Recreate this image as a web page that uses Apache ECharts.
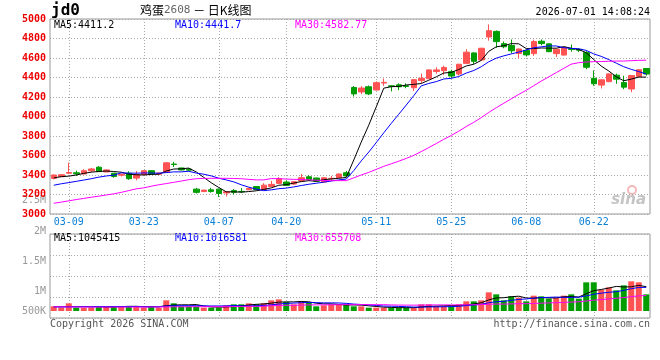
<!DOCTYPE html>
<html><head><meta charset="utf-8">
<script src="https://cdn.jsdelivr.net/npm/echarts@6/dist/echarts.min.js"></script>
<style>html,body{margin:0;padding:0;background:#fff}#c{width:660px;height:360px}</style>
</head><body><div id="c"></div>
<script>
const dates = ['03-05','03-06','03-09','03-10','03-11','03-12','03-13','03-16','03-17','03-18','03-19','03-20','03-23','03-24','03-25','03-26','03-27','03-30','03-31',
'04-01','04-02','04-03','04-07','04-08','04-09','04-10','04-13','04-14','04-15','04-16','04-17','04-20','04-21','04-22','04-23','04-24','04-27','04-28','04-29','04-30',
'05-06','05-07','05-08','05-11','05-12','05-13','05-14','05-15','05-18','05-19','05-20','05-21','05-22','05-25','05-26','05-27','05-28','05-29',
'06-01','06-02','06-03','06-04','06-05','06-08','06-09','06-10','06-11','06-12','06-15','06-16','06-17','06-18','06-22','06-23','06-24','06-25','06-26','06-29','06-30',
'07-01'];
const opens  = [3365,3383,3418,3423,3410,3443,3480,3431,3418,3398,3418,3368,3403,3444,3408,3428,3512,3472,3460,
3255,3230,3248,3255,3216,3240,3232,3249,3282,3250,3283,3314,3328,3307,3338,3382,3369,3328,3362,3372,3423,
4298,4252,4305,4272,4343,4315,4325,4315,4295,4368,4388,4462,4470,4460,4436,4545,4652,4580,
4815,4873,4747,4728,4646,4678,4645,4772,4745,4645,4630,4695,4688,4655,4392,4322,4357,4424,4348,4282,4410,
4492];
const closes = [3400,3403,3425,3412,3444,3462,3435,3452,3385,3408,3362,3405,3444,3410,3420,3525,3508,3452,3450,
3222,3245,3232,3210,3228,3222,3228,3262,3250,3296,3304,3362,3294,3331,3372,3350,3335,3372,3366,3410,3390,
4232,4292,4232,4347,4350,4308,4305,4308,4378,4392,4478,4478,4503,4415,4536,4660,4566,4700,
4880,4768,4715,4674,4692,4632,4768,4748,4665,4690,4710,4688,4680,4505,4336,4376,4437,4383,4301,4420,4480,
4436];
const lows   = [3355,3380,3415,3392,3408,3432,3432,3428,3372,3385,3350,3345,3400,3405,3400,3425,3482,3448,3440,
3210,3225,3218,3175,3180,3200,3215,3245,3245,3246,3280,3310,3290,3300,3335,3340,3330,3325,3340,3368,3380,
4205,4230,4220,4268,4312,4258,4270,4290,4262,4345,4385,4440,4428,4395,4420,4540,4540,4570,
4778,4705,4700,4648,4598,4615,4622,4730,4660,4610,4625,4665,4660,4485,4315,4288,4352,4335,4280,4250,4405,
4420];
const highs  = [3405,3405,3527,3444,3460,3473,3490,3455,3420,3412,3438,3440,3448,3448,3425,3532,3535,3475,3470,
3268,3250,3268,3260,3235,3255,3265,3272,3285,3316,3340,3378,3345,3335,3410,3398,3372,3375,3390,3415,3440,
4312,4312,4318,4360,4390,4318,4340,4340,4385,4440,4482,4505,4522,4480,4540,4690,4658,4705,
4945,4882,4770,4790,4698,4690,4788,4790,4750,4695,4715,4738,4700,4670,4472,4380,4442,4440,4418,4424,4484,
4495];
const volumes = [196000,140000,322000,140000,140000,140000,196000,196000,196000,196000,196000,196000,140000,196000,140000,448000,322000,196000,196000,
196000,140000,140000,140000,238000,280000,280000,322000,280000,322000,448000,490000,378000,280000,406000,378000,196000,238000,280000,280000,280000,
196000,196000,140000,140000,140000,140000,140000,140000,140000,280000,280000,196000,196000,196000,280000,406000,406000,448000,
784000,700000,448000,616000,560000,406000,644000,616000,518000,560000,644000,700000,518000,1204000,1204000,896000,994000,868000,1078000,1246000,1204000,
700000];
// moving-average values before enough in-window history exists
const ma5Lead  = [3370,3383,3388,3400];
const ma10Lead = [3295,3310,3322,3335,3348,3362,3378,3390,3398];
const ma30Lead = [3110,3122,3135,3148,3160,3172,3183,3195,3207,3222,3240,3258,3268,3285,3300,3312,3325,3338,3352,3362,3365,3366,3366,3366,3364,3362,3355,3350,3350];
const volMa5Lead  = [190000,180000,190000,185000];
const volMa10Lead = [170000,170000,175000,175000,180000,180000,185000,185000,190000];
const volMa30Lead = [180000,175000,172000,170000,168000,166000,165000,165000,165000,165000,166000,167000,168000,168000,170000,172000,175000,176000,178000,180000,180000,182000,183000,185000,187000,190000,192000,195000,198000];
const xLabelDates = ['03-09','03-23','04-07','04-20','05-11','05-25','06-08','06-22'];
const priceMin = 3000, priceMax = 5000, priceStep = 200;
const volAxisLabels = ['2.5M','2M','1.5M','1M','500K'];
const priceMaHeader = ['4411.2','4441.7','4582.77'];
const volMaHeader = ['1045415','1016581','655708'];

// layout / style (kept apart from data)
const volLabelY = [200,231,261,291,311];
const RED = '#ff5353', GREEN = '#009d00';
const MONO = 'DejaVu Sans Mono';
const volScale = {min:-294000, max:3234000, interval:882000};

function ma(arr, n, lead) {
  return arr.map((v, i) => {
    if (i < n - 1) return lead[i];
    let s = 0; for (let k = i - n + 1; k <= i; k++) s += arr[k];
    return +(s / n).toFixed(2);
  });
}
const kData = opens.map((o, i) => [o, closes[i], lows[i], highs[i]]);
const volData = volumes.map((v, i) => ({value: v, itemStyle: {color: closes[i] >= opens[i] ? RED : GREEN}}));
const isLabel = (idx, val) => xLabelDates.indexOf(dates[idx]) >= 0;
const dotted = {color: '#a8a8a8', width: 1, type: [1, 2]};

const chart = echarts.init(document.getElementById('c'), null, {renderer: 'canvas'});
const txt = (x, y, text, fill, font, align, extra) => Object.assign({type: 'text', x, y, silent: true, style: {text, fill, font, align: align || 'left', verticalAlign: 'middle'}}, extra || {});
const graphics = [
  txt(51, 11, 'jd0', '#000', 'bold 16px ' + MONO),
  {type: 'text', x: 140, y: 10, style: {rich: {a: {font: '12px "Noto Sans CJK SC"', fill: '#000'}, b: {font: '11px ' + MONO, fill: '#666'}}, text: '{a|鸡蛋}{b|2608}{a| － 日K线图}', verticalAlign: 'middle'}},
  txt(650, 12, '2026-07-01 14:08:24', '#000', '10px ' + MONO, 'right'),
  txt(54, 25, 'MA5:' + priceMaHeader[0], '#000', '10px ' + MONO),
  txt(175, 25, 'MA10:' + priceMaHeader[1], '#0000ff', '10px ' + MONO),
  txt(295, 25, 'MA30:' + priceMaHeader[2], '#ff00ff', '10px ' + MONO),
  txt(54, 238, 'MA5:' + volMaHeader[0], '#000', '10px ' + MONO),
  txt(175, 238, 'MA10:' + volMaHeader[1], '#0000ff', '10px ' + MONO),
  txt(295, 238, 'MA30:' + volMaHeader[2], '#ff00ff', '10px ' + MONO),
  txt(50, 324, 'Copyright 2026 SINA.COM', '#555', '10px ' + MONO),
  txt(650, 324, 'http://finance.sina.com.cn', '#555', '10px ' + MONO, 'right'),
  {type: 'circle', shape: {cx: 632, cy: 190, r: 4}, style: {fill: 'none', stroke: '#f4b8b8', lineWidth: 2}, silent: true},
  txt(646, 200, 'sina', '#c4c4c4', 'italic bold 15px "DejaVu Sans"', 'right')
];
volAxisLabels.forEach((t, i) => graphics.push(txt(46, volLabelY[i], t, '#999', '10px ' + MONO, 'right')));

chart.setOption({
  animation: false,
  backgroundColor: '#fff',
  grid: [
    {left: 50, top: 19, width: 600, height: 195, show: true, borderColor: '#999', borderWidth: 1, backgroundColor: '#fff'},
    {left: 50, top: 234, width: 600, height: 84, show: true, borderColor: '#999', borderWidth: 1, backgroundColor: '#fff'}
  ],
  xAxis: [
    {type: 'category', gridIndex: 0, data: dates, boundaryGap: true,
     axisLine: {show: false}, axisTick: {show: false},
     axisLabel: {interval: isLabel, color: '#0a7fd6', fontFamily: MONO, fontSize: 10, margin: 3},
     splitLine: {show: true, interval: isLabel, alignWithLabel: true, lineStyle: dotted}},
    {type: 'category', gridIndex: 1, data: dates, boundaryGap: true,
     axisLine: {show: false}, axisTick: {show: false}, axisLabel: {show: false},
     splitLine: {show: true, interval: isLabel, alignWithLabel: true, lineStyle: dotted}}
  ],
  yAxis: [
    {type: 'value', gridIndex: 0, min: priceMin, max: priceMax, interval: priceStep,
     axisLine: {show: false}, axisTick: {show: false},
     axisLabel: {color: '#ee0000', fontFamily: MONO, fontWeight: 'bold', fontSize: 10, margin: 4, padding: [0, 0, 3, 0], formatter: v => String(v)},
     splitLine: {show: true, lineStyle: dotted}},
    {type: 'value', gridIndex: 1, min: volScale.min, max: volScale.max, interval: volScale.interval,
     axisLine: {show: false}, axisTick: {show: false}, axisLabel: {show: false},
     splitLine: {show: true, lineStyle: dotted}}
  ],
  series: [
    {type: 'candlestick', xAxisIndex: 0, yAxisIndex: 0, data: kData, barWidth: 6,
     itemStyle: {color: RED, color0: GREEN, borderColor: RED, borderColor0: GREEN, borderWidth: 1}},
    {type: 'line', xAxisIndex: 0, yAxisIndex: 0, data: ma(closes, 5, ma5Lead), symbol: 'none', lineStyle: {color: '#000', width: 1}},
    {type: 'line', xAxisIndex: 0, yAxisIndex: 0, data: ma(closes, 10, ma10Lead), symbol: 'none', lineStyle: {color: '#0000ff', width: 1}},
    {type: 'line', xAxisIndex: 0, yAxisIndex: 0, data: ma(closes, 30, ma30Lead), symbol: 'none', lineStyle: {color: '#ff00ff', width: 1}},
    {type: 'bar', xAxisIndex: 1, yAxisIndex: 1, data: volData, barWidth: 6},
    {type: 'line', xAxisIndex: 1, yAxisIndex: 1, data: ma(volumes, 5, volMa5Lead), symbol: 'none', lineStyle: {color: '#000', width: 1}},
    {type: 'line', xAxisIndex: 1, yAxisIndex: 1, data: ma(volumes, 10, volMa10Lead), symbol: 'none', lineStyle: {color: '#0000ff', width: 1}},
    {type: 'line', xAxisIndex: 1, yAxisIndex: 1, data: ma(volumes, 30, volMa30Lead), symbol: 'none', lineStyle: {color: '#ff00ff', width: 1}}
  ],
  graphic: graphics
});
</script></body></html>
